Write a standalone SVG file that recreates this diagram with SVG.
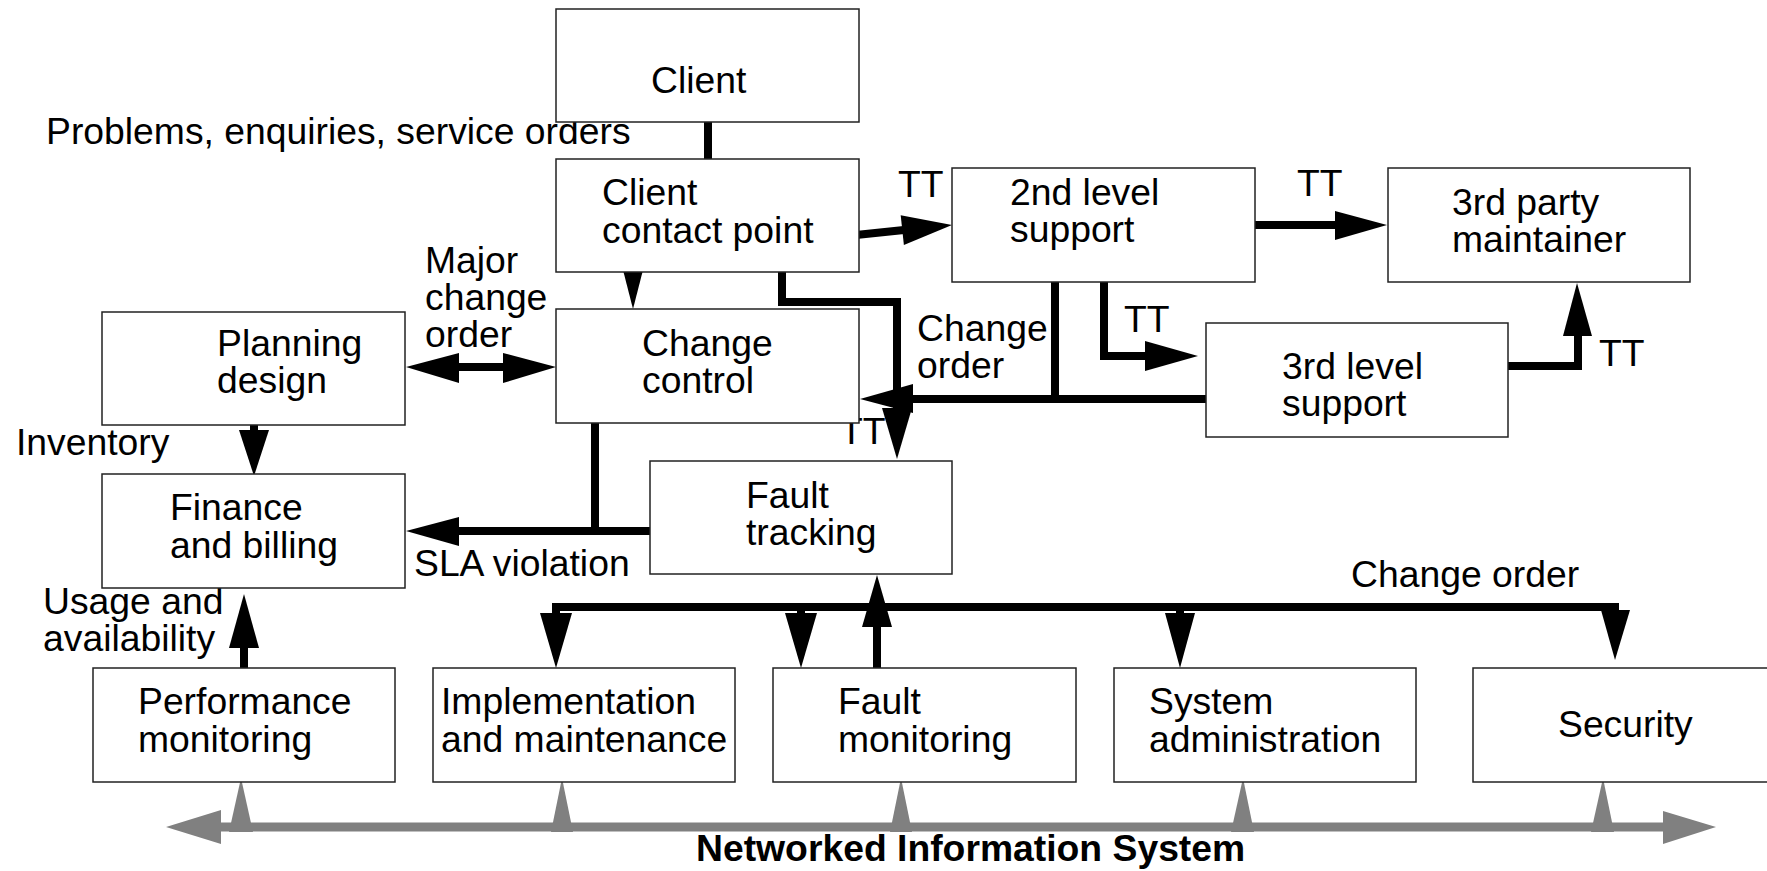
<svg xmlns="http://www.w3.org/2000/svg" width="1767" height="871" viewBox="0 0 1767 871">
<style>
.box{fill:#fff;stroke:#222;stroke-width:1.5}
text{font-family:"Liberation Sans",Arial,sans-serif;font-size:37.3px;fill:#000}
.bold{font-weight:bold}
.ln{fill:none;stroke:#000;stroke-width:8}
.hd{fill:#000}
.g{fill:#808080}
.gl{fill:none;stroke:#808080;stroke-width:9}
</style>
<rect width="1767" height="871" fill="#fff"/>
<g id="connectors">
  <!-- Client to contact point -->
  <line class="ln" x1="708" y1="119" x2="708" y2="162"/>
  <!-- contact point to change control -->
  <polygon class="hd" points="623,270 643,270 633,309"/>
  <!-- planning <-> change control -->
  <rect x="457" y="363" width="48" height="8" fill="#000"/>
  <polygon class="hd" points="406,367 459,353 459,383"/>
  <polygon class="hd" points="556,367 503,353 503,383"/>
  <!-- planning to finance -->
  <line class="ln" x1="254" y1="425" x2="254" y2="434"/>
  <polygon class="hd" points="239,430 269,430 254,476"/>
  <!-- change control / fault tracking SLA violation -->
  <line class="ln" x1="595" y1="419" x2="595" y2="535"/>
  <line class="ln" x1="654" y1="531" x2="457" y2="531"/>
  <polygon class="hd" points="406,531 459,517 459,546"/>
  <!-- performance to finance -->
  <line class="ln" x1="244" y1="672" x2="244" y2="645"/>
  <polygon class="hd" points="229,648 259,648 244,594"/>
  <!-- contact point to fault tracking -->
  <polyline class="ln" points="782,268 782,302 897,302 897,412"/>
  <polygon class="hd" points="882,408 912,408 897,459"/>
  <!-- change order to change control -->
  <line class="ln" x1="1055" y1="278" x2="1055" y2="403"/>
  <line class="ln" x1="1210" y1="399" x2="910" y2="399"/>
  <polygon class="hd" points="860,399 913,384 913,413"/>
  <!-- contact point to 2nd level -->
  <line class="ln" x1="856" y1="235" x2="904" y2="230"/>
  <polygon class="hd" points="952,225 900.7,215.3 903.9,245.1"/>
  <!-- 2nd level to 3rd party -->
  <line class="ln" x1="1252" y1="225" x2="1337" y2="225"/>
  <polygon class="hd" points="1335,211 1335,240 1387,225"/>
  <!-- 2nd level to 3rd level -->
  <polyline class="ln" points="1104,278 1104,356 1147,356"/>
  <polygon class="hd" points="1145,341 1145,371 1198,356"/>
  <!-- 3rd level to 3rd party -->
  <polyline class="ln" points="1505,366 1578,366 1578,333"/>
  <polygon class="hd" points="1563,336 1592,336 1577,283"/>
  <!-- change order bus -->
  <polyline class="ln" points="556,616 556,607 1615,607 1615,613"/>
  <line class="ln" x1="801" y1="603" x2="801" y2="616"/>
  <line class="ln" x1="1180" y1="603" x2="1180" y2="616"/>
  <polygon class="hd" points="540,613 572,613 556,668"/>
  <polygon class="hd" points="785,613 817,613 801,668"/>
  <polygon class="hd" points="1165,613 1195,613 1180,668"/>
  <polygon class="hd" points="1601,610 1630,610 1615,660"/>
  <!-- fault monitoring to fault tracking -->
  <line class="ln" x1="877" y1="672" x2="877" y2="622"/>
  <polygon class="hd" points="862,627 892,627 877,575"/>
  <!-- networked information system bus -->
  <line class="gl" x1="219" y1="827" x2="1665" y2="827"/>
  <polygon class="g" points="166,827 221,810 221,844"/>
  <polygon class="g" points="1716,827 1663,811 1663,844"/>
  <polygon class="g" points="229,832 253,832 241,778"/>
  <polygon class="g" points="551,832 573,832 562,778"/>
  <polygon class="g" points="890,832 912,832 901,778"/>
  <polygon class="g" points="1231,832 1254,832 1243,778"/>
  <polygon class="g" points="1591,832 1614,832 1603,778"/>
</g>
<g id="labels">
  <text x="46" y="144">Problems, enquiries, service orders</text>
  <text x="425" y="273">Major</text>
  <text x="425" y="310">change</text>
  <text x="425" y="347">order</text>
  <text x="16" y="455">Inventory</text>
  <text x="414" y="576">SLA violation</text>
  <text x="43" y="614">Usage and</text>
  <text x="43" y="651">availability</text>
  <text x="898" y="197">TT</text>
  <text x="1297" y="196">TT</text>
  <text x="1124" y="332">TT</text>
  <text x="1599" y="366">TT</text>
  <text x="840" y="444">TT</text>
  <text x="917" y="341">Change</text>
  <text x="917" y="378">order</text>
  <text x="1351" y="587">Change order</text>
  <text class="bold" x="696" y="861">Networked Information System</text>
</g>
<g id="client"><rect class="box" x="556" y="9" width="303" height="113"/><text x="651" y="93">Client</text></g>
<g id="client-contact-point"><rect class="box" x="556" y="159" width="303" height="113"/><text x="602" y="205">Client</text><text x="602" y="243">contact point</text></g>
<g id="change-control"><rect class="box" x="556" y="309" width="303" height="114"/><text x="642" y="356">Change</text><text x="642" y="393">control</text></g>
<g id="planning-design"><rect class="box" x="102" y="312" width="303" height="113"/><text x="217" y="356">Planning</text><text x="217" y="393">design</text></g>
<g id="finance-billing"><rect class="box" x="102" y="474" width="303" height="114"/><text x="170" y="520">Finance</text><text x="170" y="558">and billing</text></g>
<g id="fault-tracking"><rect class="box" x="650" y="461" width="302" height="113"/><text x="746" y="508">Fault</text><text x="746" y="545">tracking</text></g>
<g id="second-level-support"><rect class="box" x="952" y="168" width="303" height="114"/><text x="1010" y="205">2nd level</text><text x="1010" y="242">support</text></g>
<g id="third-party-maintainer"><rect class="box" x="1388" y="168" width="302" height="114"/><text x="1452" y="215">3rd party</text><text x="1452" y="252">maintainer</text></g>
<g id="third-level-support"><rect class="box" x="1206" y="323" width="302" height="114"/><text x="1282" y="379">3rd level</text><text x="1282" y="416">support</text></g>
<g id="performance-monitoring"><rect class="box" x="93" y="668" width="302" height="114"/><text x="138" y="714">Performance</text><text x="138" y="752">monitoring</text></g>
<g id="implementation-maintenance"><rect class="box" x="433" y="668" width="302" height="114"/><text x="441" y="714">Implementation</text><text x="441" y="752">and maintenance</text></g>
<g id="fault-monitoring"><rect class="box" x="773" y="668" width="303" height="114"/><text x="838" y="714">Fault</text><text x="838" y="752">monitoring</text></g>
<g id="system-administration"><rect class="box" x="1114" y="668" width="302" height="114"/><text x="1149" y="714">System</text><text x="1149" y="752">administration</text></g>
<g id="security"><rect class="box" x="1473" y="668" width="302" height="114"/><text x="1558" y="737">Security</text></g>
</svg>
